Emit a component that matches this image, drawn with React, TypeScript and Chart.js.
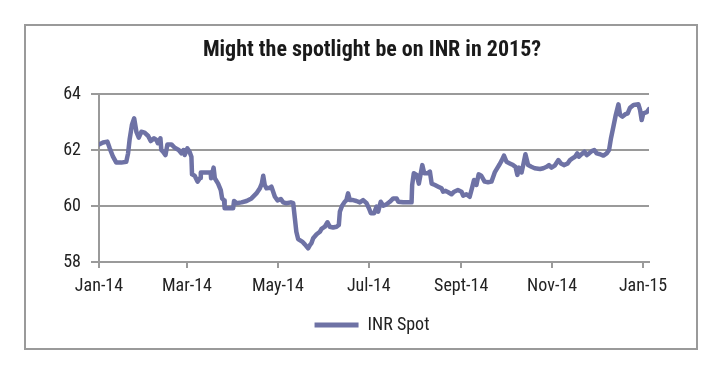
import React, { useEffect, useRef } from "react";
import { Chart, registerables } from "chart.js";

Chart.register(...registerables);

const chartTitle = "Might the spotlight be on INR in 2015?";
const seriesName = "INR Spot";

// day offsets from 1 Jan 2014
const days = [
  0, 2.7, 5.6, 7.2, 9.4, 11.6, 15, 18.3, 19.5, 20.6, 22.1, 23.6, 25.1, 26.7, 28.4, 30.6, 33, 34.7, 36.9, 38.5,
  39.5, 41.2, 41.8, 42.9, 44.6, 45.9, 48.6, 50.8, 53.5, 55.3, 56.7, 57.5, 59.3, 60.7, 62, 62.4, 64.2, 66.1, 67.8, 68.3,
  74.9, 75.2, 76.9, 77.7, 79.9, 81.7, 82.6, 83.9, 84.3, 90, 90.6, 92.2, 95.6, 99, 102.3, 105.6, 107.9, 109.2, 110.2, 111.2,
  112.4, 114.6, 115.7, 118, 119.8, 122, 123.5, 125.7, 128.7, 130.3, 131.4, 132.4, 133.6, 136.3, 138.1, 140.3, 141.5, 142.5, 143.7, 146,
  148.2, 149.3, 151.5, 153.3, 154.8, 157.1, 159.4, 160.9, 161.6, 163.1, 164.9, 166, 167.1, 168.3, 170.5, 172.7, 175, 177.2, 179.5, 181.1,
  182.4, 184.6, 186.2, 187.3, 189, 190.7, 192.9, 195.1, 197.4, 199.7, 200.8, 204.1, 207.4, 209.7, 210.1, 211.2, 213.1, 214.6, 216, 216.9,
  218.2, 220.4, 222, 223.2, 225.4, 227.6, 229.8, 230.9, 232.6, 234.3, 236.5, 238.3, 240.8, 243.2, 244.3, 246.5, 248.7, 250.2, 251.6, 253.2,
  254.7, 256.5, 258.7, 261, 263.3, 265.5, 267.2, 268.8, 270.3, 271.7, 273.4, 275.6, 277.8, 279.4, 280.7, 281.8, 283.5, 284.6, 286.1, 287.9,
  290.1, 292.3, 295.9, 298.1, 300.3, 301.9, 303.6, 305.7, 308.2, 309.9, 312.2, 314.4, 316, 317.6, 319.4, 320.9, 322, 323.8, 325.7, 327.2,
  328.8, 330.6, 332.3, 333.9, 336.2, 338.4, 340.6, 342.2, 343.5, 345.1, 346.7, 348.5, 349.6, 351.2, 352.9, 354.7, 356.3, 358.6, 361.9, 363,
  364.1, 365.2, 367.5, 369,
];

const inrSpot = [
  62.2, 62.27, 62.3, 62.06, 61.76, 61.55, 61.55, 61.58, 61.88, 62.4, 62.9, 63.13, 62.65, 62.44, 62.65, 62.62, 62.5, 62.32, 62.42, 62.36,
  62.24, 62.42, 62.0, 61.94, 61.82, 62.2, 62.2, 62.08, 62.0, 61.88, 62.0, 61.82, 62.06, 61.94, 61.76, 61.13, 61.08, 60.87, 61.0, 61.2,
  61.2, 60.99, 61.37, 60.99, 60.8, 60.57, 60.27, 60.2, 59.92, 59.92, 60.18, 60.1, 60.13, 60.18, 60.27, 60.45, 60.63, 60.8, 61.08, 60.75,
  60.63, 60.65, 60.69, 60.33, 60.2, 60.25, 60.13, 60.1, 60.13, 60.1, 59.56, 59.08, 58.82, 58.73, 58.63, 58.49, 58.6, 58.67, 58.85, 58.99,
  59.08, 59.18, 59.26, 59.42, 59.26, 59.23, 59.26, 59.32, 59.8, 60.01, 60.15, 60.21, 60.45, 60.21, 60.21, 60.18, 60.13, 60.21, 60.1, 59.92,
  59.74, 59.74, 59.98, 59.8, 60.15, 60.01, 60.06, 60.15, 60.27, 60.27, 60.15, 60.13, 60.13, 60.13, 60.75, 61.17, 61.11, 60.8, 61.2, 61.46,
  61.17, 61.17, 61.23, 60.8, 60.75, 60.69, 60.63, 60.51, 60.54, 60.49, 60.42, 60.51, 60.57, 60.51, 60.37, 60.42, 60.33, 60.63, 60.93, 60.75,
  61.13, 61.08, 60.87, 60.85, 60.87, 61.2, 61.35, 61.49, 61.64, 61.8, 61.58, 61.52, 61.46, 61.4, 61.11, 61.37, 61.2, 61.46, 61.85, 61.46,
  61.4, 61.35, 61.32, 61.35, 61.4, 61.46, 61.37, 61.44, 61.64, 61.52, 61.46, 61.52, 61.64, 61.7, 61.76, 61.88, 61.76, 61.85, 61.94, 61.82,
  61.88, 61.96, 62.0, 61.88, 61.85, 61.8, 61.88, 62.0, 62.42, 62.83, 63.25, 63.63, 63.25, 63.19, 63.27, 63.31, 63.51, 63.61, 63.63, 63.43,
  63.07, 63.31, 63.35, 63.46,
];

const tickDays = [0, 59, 120, 181, 243, 304, 365];
const tickLabels = ["Jan-14", "Mar-14", "May-14", "Jul-14", "Sept-14", "Nov-14", "Jan-15"];
const yTicks = [58, 60, 62, 64];

const FONT = "'Liberation Sans Narrow', 'Arial Narrow', 'Roboto Condensed', 'DejaVu Sans Condensed', sans-serif";
const LINE = "#6e72a5";
const GRID = "#9a9a9a";

const frame = {
  id: "frame",
  beforeDraw(chart: any) {
    const { ctx } = chart;
    ctx.save();
    ctx.fillStyle = "#ffffff";
    ctx.fillRect(0, 0, chart.width, chart.height);
    ctx.strokeStyle = GRID;
    ctx.lineWidth = 2;
    ctx.strokeRect(25, 25, 672, 324);
    ctx.restore();
  },
};

export default function App() {
  const ref = useRef<HTMLCanvasElement | null>(null);
  useEffect(() => {
    if (!ref.current) return;
    const chart = new Chart(ref.current, {
      type: "line",
      data: {
        datasets: [
          {
            label: seriesName,
            data: days.map((d, i) => ({ x: d, y: inrSpot[i] })),
            borderColor: LINE,
            backgroundColor: LINE,
            borderWidth: 4.5,
            pointRadius: 0,
            tension: 0,
            borderJoinStyle: "round",
            borderCapStyle: "round",
          },
        ],
      },
      plugins: [frame],
      options: {
        responsive: false,
        animation: false,
        layout: { padding: { left: 24, right: 0, top: 37, bottom: 31 } },
        plugins: {
          title: {
            display: true,
            text: chartTitle,
            color: "#1a1a1a",
            font: { family: FONT, weight: "bold", size: 22, lineHeight: 1.2 },
            padding: { top: 0, bottom: 30.6 },
          },
          legend: {
            display: true,
            position: "bottom",
            labels: {
              color: "#222",
              font: { family: FONT, size: 18 },
              boxWidth: 44,
              boxHeight: 5,
              padding: 14,
              generateLabels: (c: any) =>
                c.data.datasets.map((ds: any, i: number) => ({
                  text: ds.label,
                  fillStyle: LINE,
                  strokeStyle: LINE,
                  lineWidth: 0,
                  datasetIndex: i,
                  fontColor: "#222",
                })),
            },
          },
          tooltip: { enabled: false },
        },
        scales: {
          x: {
            type: "linear",
            min: 0,
            max: 369,
            afterBuildTicks: (scale: any) => {
              scale.ticks = tickDays.map((v) => ({ value: v }));
            },
            afterFit: (scale: any) => {
              scale.height = 40;
            },
            grid: { drawOnChartArea: false, drawTicks: true, tickLength: 6, color: GRID, lineWidth: 2 },
            border: { display: true, color: GRID, width: 2 },
            ticks: {
              autoSkip: false,
              maxRotation: 0,
              padding: 8,
              color: "#222",
              font: { family: FONT, size: 18 },
              callback: (_v: any, i: number) => tickLabels[i],
            },
          },
          y: {
            min: 58,
            max: 64,
            afterBuildTicks: (scale: any) => {
              scale.ticks = yTicks.map((v) => ({ value: v }));
            },
            afterFit: (scale: any) => {
              scale.width = 75;
            },
            grid: { color: GRID, lineWidth: 2, tickLength: 8, drawTicks: true },
            border: { display: true, color: GRID, width: 2 },
            ticks: { padding: 10, color: "#222", font: { family: FONT, size: 18 } },
          },
          yRight: {
            position: "right",
            display: true,
            afterFit: (scale: any) => {
              scale.width = 71;
            },
            grid: { display: false, drawTicks: false },
            border: { display: false },
            ticks: { display: false },
          },
        },
      },
    });
    return () => chart.destroy();
  }, []);
  return (
    <div style={{ position: "absolute", left: 0, top: 0, width: 720, height: 375 }}>
      <canvas ref={ref} width={720} height={375} style={{ width: 720, height: 375, display: "block" }} />
    </div>
  );
}
